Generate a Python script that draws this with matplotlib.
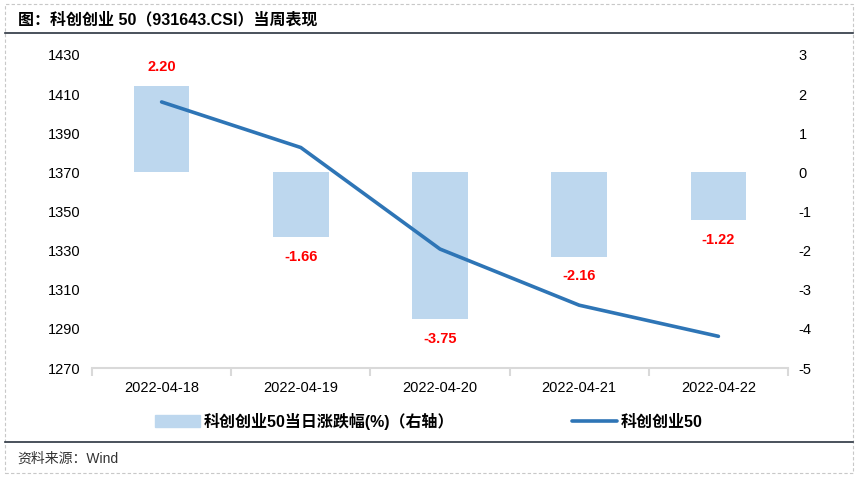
import matplotlib
matplotlib.use("Agg")
import matplotlib.pyplot as plt
from matplotlib.lines import Line2D
from matplotlib.patches import Rectangle

plt.rcParams['font.family'] = ['Liberation Sans', 'Noto Sans CJK SC', 'DejaVu Sans']

dates = ["2022-04-18", "2022-04-19", "2022-04-20", "2022-04-21", "2022-04-22"]
pct_change = [2.20, -1.66, -3.75, -2.16, -1.22]
index_close = [1406.0, 1382.7, 1330.8, 1302.1, 1286.2]

BAR_C = "#BDD7EE"
LINE_C = "#2E75B6"

W, H = 860, 478
fig = plt.figure(figsize=(W / 100, H / 100), dpi=100)

# 外框（虚线）+ 标题下/来源上横线
fig.add_artist(Rectangle((5 / W, 1 - 473 / H), 848 / W, 469 / H, transform=fig.transFigure,
                         fill=False, ls=(0, (3, 2)), lw=0.8, ec="#c8c8c8"))
fig.add_artist(Line2D([5 / W, 853 / W], [1 - 33 / H] * 2, color="#2b3440", lw=1.2))
fig.add_artist(Line2D([5 / W, 853 / W], [1 - 442 / H] * 2, color="#2b3440", lw=1.2))
fig.text(18 / W, 1 - 20 / H, "图：科创创业 50（931643.CSI）当周表现",
         fontsize=11.5, fontweight="bold", va="center", ha="left")
fig.text(17 / W, 1 - 459 / H, "资料来源：Wind", fontsize=10,
         color="#333333", va="center", ha="left")

x0, x1, ytop, ybot = 92, 788, 55, 368
ax = fig.add_axes([x0 / W, 1 - ybot / H, (x1 - x0) / W, (ybot - ytop) / H])
x = range(len(dates))
ax.bar(x, pct_change, width=0.4, color=BAR_C, zorder=1)
ax.set_ylim(-5, 3)
ax.set_xlim(-0.5, len(dates) - 0.5)

ax2 = ax.twinx()
ax2.plot(list(x), index_close, color=LINE_C, lw=2.6, solid_capstyle="round", zorder=3)
ax2.set_ylim(1270, 1430)
ax2.set_yticks(range(1270, 1431, 20))
ax2.yaxis.tick_left()
ax2.tick_params(axis="y", length=0, labelsize=10.5, pad=8.5)
for s in ["top", "left", "right", "bottom"]:
    ax2.spines[s].set_visible(False)

ax.yaxis.tick_right()
ax.set_yticks(range(-5, 4))
ax.set_yticklabels([str(v) for v in range(-5, 4)])
for s in ["top", "left", "right"]:
    ax.spines[s].set_visible(False)
ax.spines["bottom"].set_color("#d9d9d9")
ax.spines["bottom"].set_linewidth(1.5)
ax.set_xticks([i - 0.5 for i in range(len(dates) + 1)], minor=False)
ax.set_xticklabels([])
ax.set_xticks(list(x), minor=True)
ax.set_xticklabels(dates, minor=True)
ax.tick_params(axis="x", which="major", length=6, color="#d9d9d9", width=1.5)
ax.tick_params(axis="x", which="minor", length=0, labelsize=10.5, pad=9)
ax.tick_params(axis="y", length=0, labelsize=10.5, pad=7.5)

for i, v in enumerate(pct_change):
    off = 0.32 if v > 0 else -0.32
    ax.text(i, v + off, f"{v:.2f}", color="#FF0000", fontsize=10.5, fontweight="bold",
            ha="center", va="bottom" if v > 0 else "top")

handles = [Rectangle((0, 0), 1, 1, color=BAR_C),
           Line2D([0], [0], color=LINE_C, lw=2.6, solid_capstyle="round")]
labels = ["科创创业50当日涨跌幅(%)（右轴）", "科创创业50"]
fig.legend(handles, labels, loc="center", bbox_to_anchor=(429 / W, 1 - 421 / H), ncol=2,
           frameon=False, columnspacing=7.4, handlelength=2.8, handletextpad=0.25,
           prop={"size": 11.5, "weight": "bold"})

fig.savefig("out.png", dpi=100)
